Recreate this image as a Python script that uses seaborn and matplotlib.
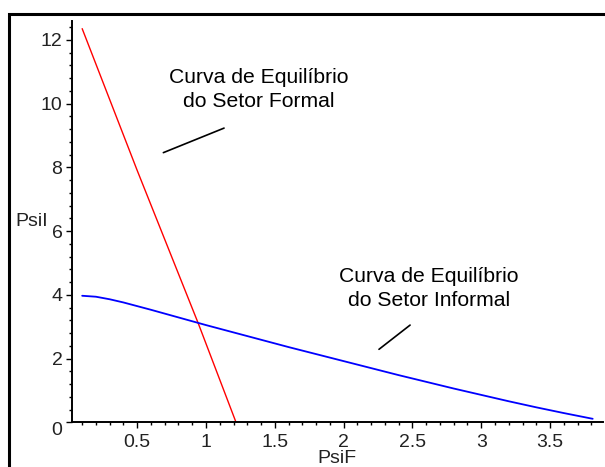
import numpy as np
import pandas as pd
import matplotlib
matplotlib.use("Agg")
import matplotlib.pyplot as plt
from matplotlib.ticker import MultipleLocator, FixedLocator
from matplotlib.patches import Rectangle
import seaborn as sns

# ---- data ----
formal_x = [0.10, 0.50, 0.944, 1.218]
formal_y = [12.35, 7.90, 3.10, 0.00]

informal_x = [0.10, 0.20, 0.30, 0.40, 0.60, 0.80, 1.00, 1.20, 1.40, 1.60, 1.80,
              2.00, 2.20, 2.40, 2.60, 2.80, 3.00, 3.20, 3.40, 3.60, 3.81]
informal_y = [3.97, 3.94, 3.86, 3.76, 3.53, 3.29, 3.05, 2.82, 2.59, 2.36, 2.14,
              1.92, 1.70, 1.48, 1.27, 1.06, 0.86, 0.66, 0.47, 0.29, 0.11]

x_major = [0.5, 1, 1.5, 2, 2.5, 3, 3.5]
x_major_labels = ["0.5", "1", "1.5", "2", "2.5", "3", "3.5"]
y_major = [0, 2, 4, 6, 8, 10, 12]
y_major_labels = ["0", "2", "4", "6", "8", "10", "12"]

label_formal = "Curva de Equilíbrio\ndo Setor Formal"
label_informal = "Curva de Equilíbrio\ndo Setor Informal"
x_label = "PsiF"
y_label = "PsiI"

# ---- style ----
sns.set_style("white")
plt.rcParams["font.family"] = ["Liberation Sans", "DejaVu Sans"]

fig = plt.figure(figsize=(6.05, 4.67), dpi=100)
ax = fig.add_axes([0.1182, 0.0957, 0.8785, 0.86])

df_f = pd.DataFrame({"x": formal_x, "y": formal_y})
df_i = pd.DataFrame({"x": informal_x, "y": informal_y})
sns.lineplot(data=df_f, x="x", y="y", ax=ax, color="#ff0000", lw=1.0,
             sort=False, estimator=None)
sns.lineplot(data=df_i, x="x", y="y", ax=ax, color="#0000ff", lw=1.3,
             sort=False, estimator=None)

ax.set_xlim(0.0225, 3.885)
ax.set_ylim(0, 12.6)

for s in ["top", "right"]:
    ax.spines[s].set_visible(False)
for s in ["left", "bottom"]:
    ax.spines[s].set_color("black")
    ax.spines[s].set_linewidth(1.4)

ax.xaxis.set_major_locator(FixedLocator(x_major))
ax.set_xticklabels(x_major_labels)
ax.xaxis.set_minor_locator(MultipleLocator(0.1))
ax.yaxis.set_major_locator(FixedLocator(y_major))
ax.set_yticklabels(y_major_labels)
ax.yaxis.set_minor_locator(MultipleLocator(0.4))

ax.tick_params(axis="both", which="major", direction="out", length=4.5,
               width=1.0, color="black", labelsize=14, labelcolor="#222222")
ax.tick_params(axis="both", which="minor", direction="out", length=2.5,
               width=1.0, color="black")
ax.tick_params(axis="x", which="major", pad=4)
ax.tick_params(axis="y", which="major", pad=2)
ax.xaxis.set_ticks_position("bottom")
ax.yaxis.set_ticks_position("left")
ylabs = ax.get_yticklabels()
ylabs[0].set_va("top")

ax.set_xlabel(x_label, fontsize=14, color="#222222", labelpad=-1)
ax.set_ylabel(y_label, fontsize=14, color="#222222", rotation=0,
              ha="right", va="center", labelpad=-5)

ax.text(1.385, 9.906, label_formal, ha="center", va="baseline",
        fontsize=15.2, color="black", linespacing=1.3)
ax.text(2.62, 3.65, label_informal, ha="center", va="baseline",
        fontsize=15.2, color="black", linespacing=1.3)

ax.plot([0.69, 1.131], [8.46, 9.23], color="black", lw=1.2)
ax.plot([2.257, 2.483], [2.29, 3.05], color="black", lw=1.2)

fig.patches.append(Rectangle((0.0157, -0.1), 1.2, 1.07, transform=fig.transFigure,
                             fill=False, edgecolor="black", lw=2.2))

fig.savefig("out.png", dpi=100)
